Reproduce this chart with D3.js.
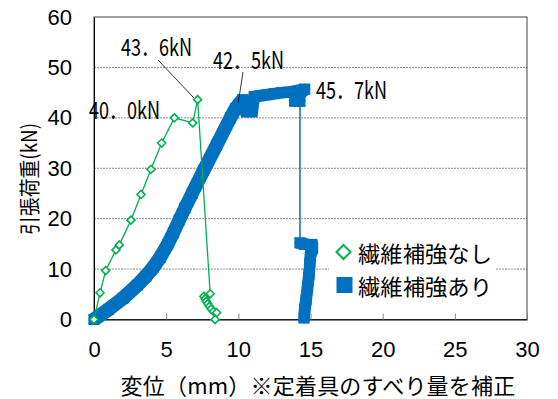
<!DOCTYPE html>
<html>
<head>
<meta charset="utf-8">
<script src="https://cdn.jsdelivr.net/npm/d3@7"></script>
<style>
  html, body { margin: 0; padding: 0; background: #fff; }
  svg { display: block; }
</style>
</head>
<body>
<svg id="chart" width="558" height="399"></svg>
<script>
// Load–displacement data (displacement in mm, load in kN)
const xTicks = [0, 5, 10, 15, 20, 25, 30];
const yTicks = [0, 10, 20, 30, 40, 50, 60];
const gridValues = [10, 20, 30, 40, 50];

// Without fiber reinforcement
const plainX = [0, 0.42, 0.81, 1.52, 1.75, 2.56, 3.26, 3.95, 4.69, 5.57, 6.84, 7.18,
                8.05, 7.62, 7.7, 7.78, 7.88, 8.0, 8.12, 8.28, 8.5, 8.39];
const plainY = [0, 5.3, 9.7, 13.8, 14.8, 19.7, 24.8, 29.8, 35.0, 40.0, 39.0, 43.6,
                5.1, 4.6, 4.1, 3.6, 3.1, 2.6, 2.1, 1.6, 1.35, 0];

// With fiber reinforcement
const fiberX = [0, 1.0, 2.0, 3.0, 3.6, 4.1, 4.6, 5.1, 5.5, 5.9, 6.3, 6.8, 7.6, 8.5, 9.45,
                9.8, 10.0, 10.3, 10.55, 10.95, 11.1, 11.5, 12.0, 12.5, 13.0, 13.5, 14.0, 14.6,
                14.3, 13.9, 14.27,
                14.27, 14.6, 15.1, 15.15, 15.0, 14.95, 14.9, 14.8, 14.7, 14.6, 14.55];
const fiberY = [0, 2.0, 4.2, 6.8, 8.6, 10.3, 12.4, 14.9, 17.2, 19.7, 22.1, 25.0, 29.6, 34.6, 40.0,
                41.8, 42.5, 43.6, 41.2, 41.2, 44.2, 44.4, 44.6, 44.8, 45.0, 45.1, 45.3, 45.7,
                45.2, 43.3, 43.3,
                15.2, 14.9, 14.9, 14.2, 13.0, 11.0, 9.0, 6.5, 4.0, 2.0, 0.3];

// Value callouts: text, and the data point each one refers to
const calloutText = ["43．6kN", "42．5kN", "40．0kN", "45．7kN"];
const calloutX = [7.18, 10.0, 5.57, 14.6];
const calloutY = [43.6, 42.5, 40.0, 45.7];

const legendLabels = ["繊維補強なし", "繊維補強あり"];
const xTitle = "変位（mm）※定着具のすべり量を補正";
const yTitle = "引張荷重(kN)";

const GREEN = "#00B050";
const BLUE = "#0070C0";
const CJK = "'Noto Sans CJK JP', sans-serif";
const LATIN = "'Liberation Sans', Arial, sans-serif";

const svg = d3.select("#chart");
const x = d3.scaleLinear().domain([0, 30]).range([94, 527]);
const y = d3.scaleLinear().domain([0, 60]).range([319.5, 17]);

// Dashed horizontal gridlines
svg.append("g").selectAll("line").data(gridValues).join("line")
  .attr("x1", x(0)).attr("x2", x(30))
  .attr("y1", d => y(d)).attr("y2", d => y(d))
  .attr("stroke", "#8c8c8c").attr("stroke-width", 1)
  .attr("stroke-dasharray", "2,1");

// Plot frame
svg.append("rect")
  .attr("x", x(0)).attr("y", y(60))
  .attr("width", x(30) - x(0)).attr("height", y(0) - y(60))
  .attr("fill", "none").attr("stroke", "#404040").attr("stroke-width", 1);

// X axis with inward ticks
const xAxis = svg.append("g").attr("transform", `translate(0,${y(0)})`)
  .call(d3.axisBottom(x).tickValues(xTicks).tickSizeInner(-6).tickSizeOuter(0).tickPadding(22));
xAxis.select(".domain").attr("stroke", "#000");
xAxis.selectAll(".tick line").attr("stroke", "#808080");
xAxis.selectAll("text").attr("font-family", LATIN).attr("font-size", 22).attr("fill", "#000");

// Y axis labels
const yAxis = svg.append("g").attr("transform", `translate(${x(0)},0)`)
  .call(d3.axisLeft(y).tickValues(yTicks).tickSize(0).tickPadding(22));
yAxis.select(".domain").attr("stroke", "#000");
yAxis.selectAll("text").attr("font-family", LATIN).attr("font-size", 22).attr("fill", "#000");

// Fiber-reinforced series: dense square markers form a thick band;
// large jumps between readings are drawn as a thin connector only.
const fiberPts = fiberX.map((v, i) => [x(v), y(fiberY[i])]);
const runs = [];
let run = [fiberPts[0]];
for (let i = 1; i < fiberPts.length; i++) {
  const [ax, ay] = fiberPts[i - 1], [bx, by] = fiberPts[i];
  if (Math.hypot(bx - ax, by - ay) > 40) { runs.push(run); run = [fiberPts[i]]; }
  else run.push(fiberPts[i]);
}
runs.push(run);

const line = d3.line();
const fiberG = svg.append("g");
fiberG.append("path").attr("d", line(fiberPts))
  .attr("fill", "none").attr("stroke", BLUE).attr("stroke-width", 1.5);
const S = 11;
// square-marker sweep: centre stroke plus four corner-offset strokes
const offsets = [[0, 0, S], [-4, -4, 3], [4, 4, 3], [-4, 4, 3], [4, -4, 3]];
runs.filter(r => r.length > 1).forEach(r => {
  offsets.forEach(([dx, dy, w]) => {
    fiberG.append("path").attr("d", line(r))
      .attr("transform", `translate(${dx},${dy})`)
      .attr("fill", "none").attr("stroke", BLUE).attr("stroke-width", w)
      .attr("stroke-linejoin", "round").attr("stroke-linecap", "round");
  });
});
fiberG.selectAll("rect").data(fiberPts).join("rect")
  .attr("x", d => d[0] - S / 2).attr("y", d => d[1] - S / 2)
  .attr("width", S).attr("height", S).attr("fill", BLUE);

// Unreinforced series: line with hollow diamond markers
const plainPts = plainX.map((v, i) => [x(v), y(plainY[i])]);
const plainG = svg.append("g");
plainG.append("path").attr("d", line(plainPts))
  .attr("fill", "none").attr("stroke", GREEN).attr("stroke-width", 1.3);
const diamond = "M0,-4L4,0L0,4L-4,0Z";
plainG.selectAll("path.m").data(plainPts).join("path").attr("class", "m")
  .attr("d", diamond).attr("transform", d => `translate(${d[0]},${d[1]})`)
  .attr("fill", "#fff").attr("stroke", GREEN).attr("stroke-width", 1.6);

// Legend (white box over gridline)
const lg = svg.append("g");
lg.append("rect").attr("x", 329).attr("y", 236).attr("width", 166).attr("height", 64).attr("fill", "#fff");
lg.append("path").attr("d", "M0,-7L7,0L0,7L-7,0Z")
  .attr("transform", "translate(343.5,252)")
  .attr("fill", "none").attr("stroke", GREEN).attr("stroke-width", 2);
lg.append("rect").attr("x", 336.5).attr("y", 277).attr("width", 16).attr("height", 16).attr("fill", BLUE);
lg.selectAll("text").data(legendLabels).join("text")
  .attr("x", 358).attr("y", (d, i) => 252 + i * 33)
  .attr("dominant-baseline", "central")
  .attr("font-family", CJK).attr("font-size", 22)
  .attr("textLength", 134).attr("lengthAdjust", "spacingAndGlyphs")
  .attr("fill", "#000").text(d => d);

// Value callouts
const callout = svg.append("g");
const textPos = [[121, 45], [213, 58], [89, 108], [316, 88]];
callout.selectAll("text").data(calloutText).join("text")
  .attr("x", (d, i) => textPos[i][0]).attr("y", (d, i) => textPos[i][1])
  .attr("dominant-baseline", "central")
  .attr("font-family", CJK).attr("font-size", 24)
  .attr("textLength", 71).attr("lengthAdjust", "spacingAndGlyphs")
  .attr("fill", "#000").text(d => d);
// Leader lines for the first two callouts
[[158, 60, 0], [243, 72, 1]].forEach(([lx, ly, i]) => {
  callout.append("line")
    .attr("x1", lx).attr("y1", ly)
    .attr("x2", x(calloutX[i]) - (i === 0 ? 4 : 0)).attr("y2", y(calloutY[i]) - (i === 0 ? 2 : 3))
    .attr("stroke", "#000").attr("stroke-width", 0.8);
});

// Axis titles
svg.append("text")
  .attr("x", 318).attr("y", 384).attr("text-anchor", "middle").attr("dominant-baseline", "central")
  .attr("font-family", CJK).attr("font-size", 22).attr("letter-spacing", 0.2)
  .attr("fill", "#000").text(xTitle);
svg.append("text")
  .attr("transform", "translate(28,179) rotate(-90)")
  .attr("text-anchor", "middle").attr("dominant-baseline", "central")
  .attr("font-family", CJK).attr("font-size", 21)
  .attr("textLength", 112).attr("lengthAdjust", "spacingAndGlyphs")
  .attr("fill", "#000").text(yTitle);
</script>
</body>
</html>
